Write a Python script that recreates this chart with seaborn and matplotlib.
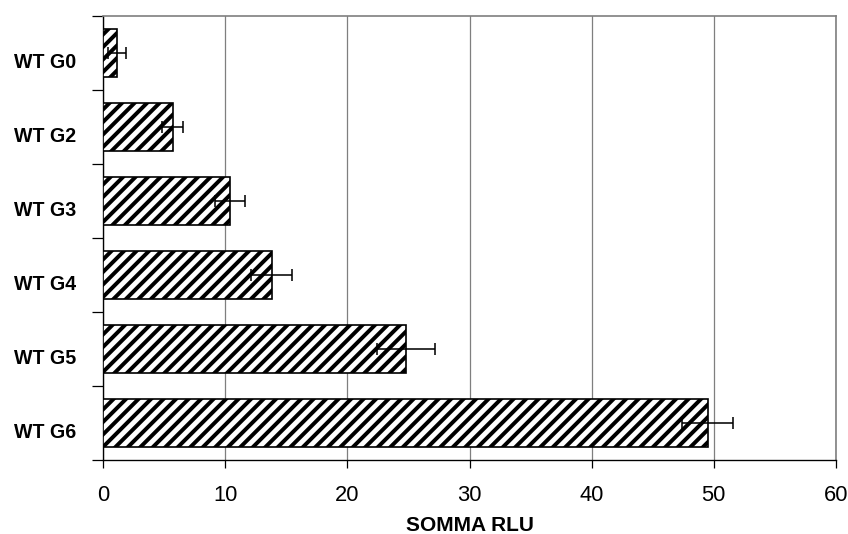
import numpy as np
import pandas as pd
import seaborn as sns
import matplotlib.pyplot as plt
from matplotlib.ticker import FixedLocator
from matplotlib.transforms import ScaledTranslation

# dati
campioni = ['WT G0', 'WT G2', 'WT G3', 'WT G4', 'WT G5', 'WT G6']
somma_rlu = [1.15, 5.7, 10.4, 13.8, 24.8, 49.5]
errore = [0.7, 0.85, 1.2, 1.65, 2.35, 2.1]

df = pd.DataFrame({'campione': campioni, 'rlu': somma_rlu, 'err': errore})

sns.set_style('white')
plt.rcParams['font.family'] = ['Liberation Sans', 'DejaVu Sans']
plt.rcParams['hatch.linewidth'] = 1.9
plt.rcParams['hatch.color'] = 'black'
plt.rcParams['text.color'] = 'black'
plt.rcParams['axes.labelcolor'] = 'black'
plt.rcParams['xtick.color'] = 'black'
plt.rcParams['ytick.color'] = 'black'

fig = plt.figure(figsize=(848 / 150, 534 / 150), dpi=150)
ax = fig.add_axes([103 / 848, 74 / 534, (836 - 103) / 848, (460 - 16) / 534])

sns.barplot(data=df, x='rlu', y='campione', orient='h', color='white',
            edgecolor='black', linewidth=0.8, hatch='////', width=0.64,
            errorbar=None, ax=ax, zorder=3)

# barre d'errore
ax.errorbar(df['rlu'], np.arange(len(df)), xerr=df['err'], fmt='none',
            ecolor='black', elinewidth=0.75, capsize=3.1, capthick=0.75, zorder=4)

# assi e griglia
ax.set_xlim(0, 60)
ax.set_ylim(len(df) - 0.5, -0.5)
ax.set_xticks(range(0, 61, 10))
ax.xaxis.grid(True, color='#7f7f7f', linewidth=0.6, zorder=0)
ax.yaxis.grid(False)

ax.yaxis.set_minor_locator(FixedLocator(np.arange(-0.5, len(df), 1.0)))
ax.tick_params(axis='y', which='major', length=0, pad=13, labelsize=9.4)
ax.tick_params(axis='y', which='minor', left=True, length=5.3, width=0.6, color='black')
ax.tick_params(axis='x', which='major', bottom=True, length=3.8, width=0.6,
               color='black', labelsize=10.5, pad=8)
sposta = ScaledTranslation(0, -8 / 150, fig.dpi_scale_trans)
for lab in ax.get_yticklabels():
    lab.set_fontweight('bold')
    lab.set_transform(lab.get_transform() + sposta)

for s in ['left', 'bottom']:
    ax.spines[s].set_color('black')
    ax.spines[s].set_linewidth(0.65)
for s in ['top', 'right']:
    ax.spines[s].set_color('#7f7f7f')
    ax.spines[s].set_linewidth(0.8)

ax.set_xlabel('SOMMA RLU', fontsize=10, fontweight='bold', labelpad=5)
ax.set_ylabel('')

plt.savefig('out.png', dpi=150)
plt.close()
